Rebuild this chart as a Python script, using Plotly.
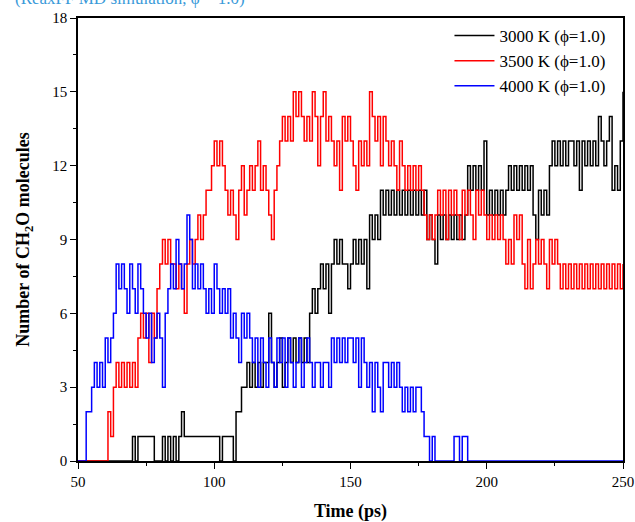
import plotly.graph_objects as go

time_ps = list(range(50, 251))

n_3000K = [
    0, 0, 0, 0, 0, 0, 0, 0, 0, 0,          # 50-59
    0, 0, 0, 0, 0, 0, 0, 0, 0, 0,          # 60-69
    1, 0, 1, 1, 1, 1, 1, 1, 0, 0,          # 70-79
    0, 1, 0, 1, 0, 1, 0, 1, 2, 1,          # 80-89
    1, 1, 1, 1, 1, 1, 1, 1, 1, 1,          # 90-99
    1, 1, 0, 1, 1, 1, 1, 0, 2, 2,          # 100-109
    3, 3, 4, 3, 4, 3, 4, 3, 4, 4,          # 110-119
    6, 4, 3, 4, 5, 3, 4, 5, 4, 5,          # 120-129
    4, 5, 4, 5, 4, 6, 7, 6, 7, 8,          # 130-139
    7, 8, 6, 8, 9, 8, 9, 8, 8, 7,          # 140-149
    8, 9, 8, 9, 8, 9, 7, 10, 9, 10,        # 150-159
    9, 11, 10, 11, 10, 11, 10, 11, 10, 11, # 160-169
    10, 11, 10, 11, 10, 11, 10, 11, 9, 10, # 170-179
    9, 8, 10, 9, 10, 9, 10, 9, 10, 9,      # 180-189
    10, 9, 10, 12, 11, 12, 11, 12, 11, 13, # 190-199
    10, 11, 10, 11, 10, 11, 10, 11, 12, 11,# 200-209
    12, 11, 12, 11, 12, 11, 12, 10, 9, 11, # 210-219
    10, 11, 10, 12, 13, 12, 13, 12, 13, 12,# 220-229
    13, 13, 12, 13, 11, 13, 12, 13, 12, 13,# 230-239
    12, 14, 13, 12, 13, 14, 11, 12, 11, 13,# 240-249
    15,                                    # 250
]

n_3500K = [
    0, 0, 0, 0, 0, 0, 0, 0, 0, 0,          # 50-59
    0, 2, 1, 3, 4, 3, 4, 3, 4, 3,          # 60-69
    4, 3, 5, 6, 5, 6, 4, 6, 5, 7,          # 70-79
    8, 9, 8, 9, 8, 8, 7, 8, 7, 6,          # 80-89
    8, 9, 8, 9, 10, 9, 10, 11, 11, 12,     # 90-99
    13, 12, 13, 12, 11, 10, 11, 10, 9, 11, # 100-109
    12, 10, 11, 12, 11, 12, 13, 11, 12, 11,# 110-119
    10, 9, 11, 12, 13, 14, 13, 14, 13, 15, # 120-129
    14, 15, 14, 13, 14, 13, 15, 14, 12, 14,# 130-139
    15, 13, 14, 13, 12, 13, 11, 14, 13, 14,# 140-149
    13, 12, 11, 13, 12, 13, 12, 15, 14, 13,# 150-159
    14, 12, 14, 13, 12, 13, 12, 11, 13, 12,# 160-169
    11, 12, 11, 12, 11, 12, 11, 10, 9, 10, # 170-179
    9, 10, 11, 10, 11, 9, 11, 10, 11, 10,  # 180-189
    9, 11, 10, 11, 10, 9, 11, 10, 11, 10,  # 190-199
    9, 10, 9, 10, 9, 10, 9, 8, 9, 8,       # 200-209
    10, 9, 10, 8, 7, 9, 7, 8, 9, 8,        # 210-219
    9, 8, 7, 9, 8, 9, 8, 7, 8, 7,          # 220-229
    8, 7, 8, 7, 8, 7, 8, 7, 8, 7,          # 230-239
    8, 7, 8, 7, 8, 7, 8, 7, 8, 7,          # 240-249
    8,                                     # 250
]

n_4000K = [
    0, 0, 0, 2, 2, 3, 4, 3, 4, 3,          # 50-59
    5, 4, 5, 6, 8, 7, 8, 7, 6, 8,          # 60-69
    7, 6, 8, 7, 6, 5, 6, 4, 5, 6,          # 70-79
    5, 3, 6, 7, 8, 7, 9, 8, 7, 8,          # 80-89
    10, 9, 7, 8, 7, 8, 7, 6, 7, 6,         # 90-99
    8, 7, 6, 7, 6, 7, 5, 6, 5, 4,          # 100-109
    6, 5, 6, 5, 4, 5, 3, 5, 4, 3,          # 110-119
    5, 4, 3, 5, 4, 5, 3, 5, 4, 3,          # 120-129
    4, 5, 3, 4, 5, 4, 3, 4, 4, 3,          # 130-139
    4, 4, 3, 5, 4, 5, 4, 5, 4, 5,          # 140-149
    5, 4, 5, 3, 5, 4, 3, 4, 2, 4,          # 150-159
    3, 2, 4, 4, 3, 4, 3, 4, 3, 2,          # 160-169
    3, 2, 3, 2, 3, 3, 2, 1, 1, 0,          # 170-179
    1, 0, 0, 0, 0, 0, 0, 0, 1, 1,          # 180-189
    0, 1, 1, 0, 0, 0, 0, 0, 0, 0,          # 190-199
    0, 0, 0, 0, 0, 0, 0, 0, 0, 0,          # 200-209
    0, 0, 0, 0, 0, 0, 0, 0, 0, 0,          # 210-219
    0, 0, 0, 0, 0, 0, 0, 0, 0, 0,          # 220-229
    0, 0, 0, 0, 0, 0, 0, 0, 0, 0,          # 230-239
    0, 0, 0, 0, 0, 0, 0, 0, 0, 0,          # 240-249
    0,                                     # 250
]

series = [
    ("3000 K (ϕ=1.0)", n_3000K, "#000000"),
    ("3500 K (ϕ=1.0)", n_3500K, "#ff0000"),
    ("4000 K (ϕ=1.0)", n_4000K, "#0000ff"),
]

x_tick_vals = [50, 100, 150, 200, 250]
y_tick_vals = [0, 3, 6, 9, 12, 15, 18]

serif = "Liberation Serif, Times New Roman, serif"

fig = go.Figure()
for name, vals, color in series:
    fig.add_trace(go.Scatter(
        x=time_ps, y=vals, name=name, mode="lines",
        line=dict(color=color, width=1.5, shape="hv"),
    ))

axis_common = dict(
    showgrid=False, zeroline=False, showline=True, linecolor="#000000",
    linewidth=1.5, mirror=True, ticks="outside", ticklen=6, tickwidth=1.2,
    tickcolor="#000000", layer="below traces", automargin=False,
    tickfont=dict(family=serif, size=15, color="#000000"),
)

fig.update_xaxes(
    range=[50, 250], tickvals=x_tick_vals,
    minor=dict(dtick=25, ticks="outside", ticklen=3, tickcolor="#000000"),
    title=dict(text="<b>Time (ps)</b>", font=dict(family=serif, size=18, color="#000000"), standoff=16),
    **axis_common,
)
fig.update_yaxes(
    range=[0, 18], tickvals=y_tick_vals,
    minor=dict(dtick=1.5, ticks="outside", ticklen=3, tickcolor="#000000"),
    title=dict(text="<b>Number of CH<sub>2</sub>O molecules</b>", font=dict(family=serif, size=18, color="#000000"), standoff=18),
    **axis_common,
)

fig.update_layout(
    width=635, height=522,
    margin=dict(l=78, r=12, t=18, b=61, autoexpand=False),
    paper_bgcolor="#ffffff", plot_bgcolor="#ffffff",
    showlegend=True,
    legend=dict(
        x=0.977, y=1.0, xanchor="right", yanchor="top",
        bgcolor="rgba(0,0,0,0)", borderwidth=0,
        font=dict(family=serif, size=17, color="#000000"),
        tracegroupgap=0, itemwidth=40,
    ),
    annotations=[dict(
        text="(ReaxFF MD simulation, ϕ = 1.0)", xref="paper", yref="paper",
        x=-0.12, y=1.043, xanchor="left", yanchor="middle", showarrow=False,
        font=dict(family=serif, size=17, color="#3a9ad9"),
    )],
)

fig.write_html("out.html", config={"displayModeBar": False},
               post_script="document.body.style.margin='0';")
